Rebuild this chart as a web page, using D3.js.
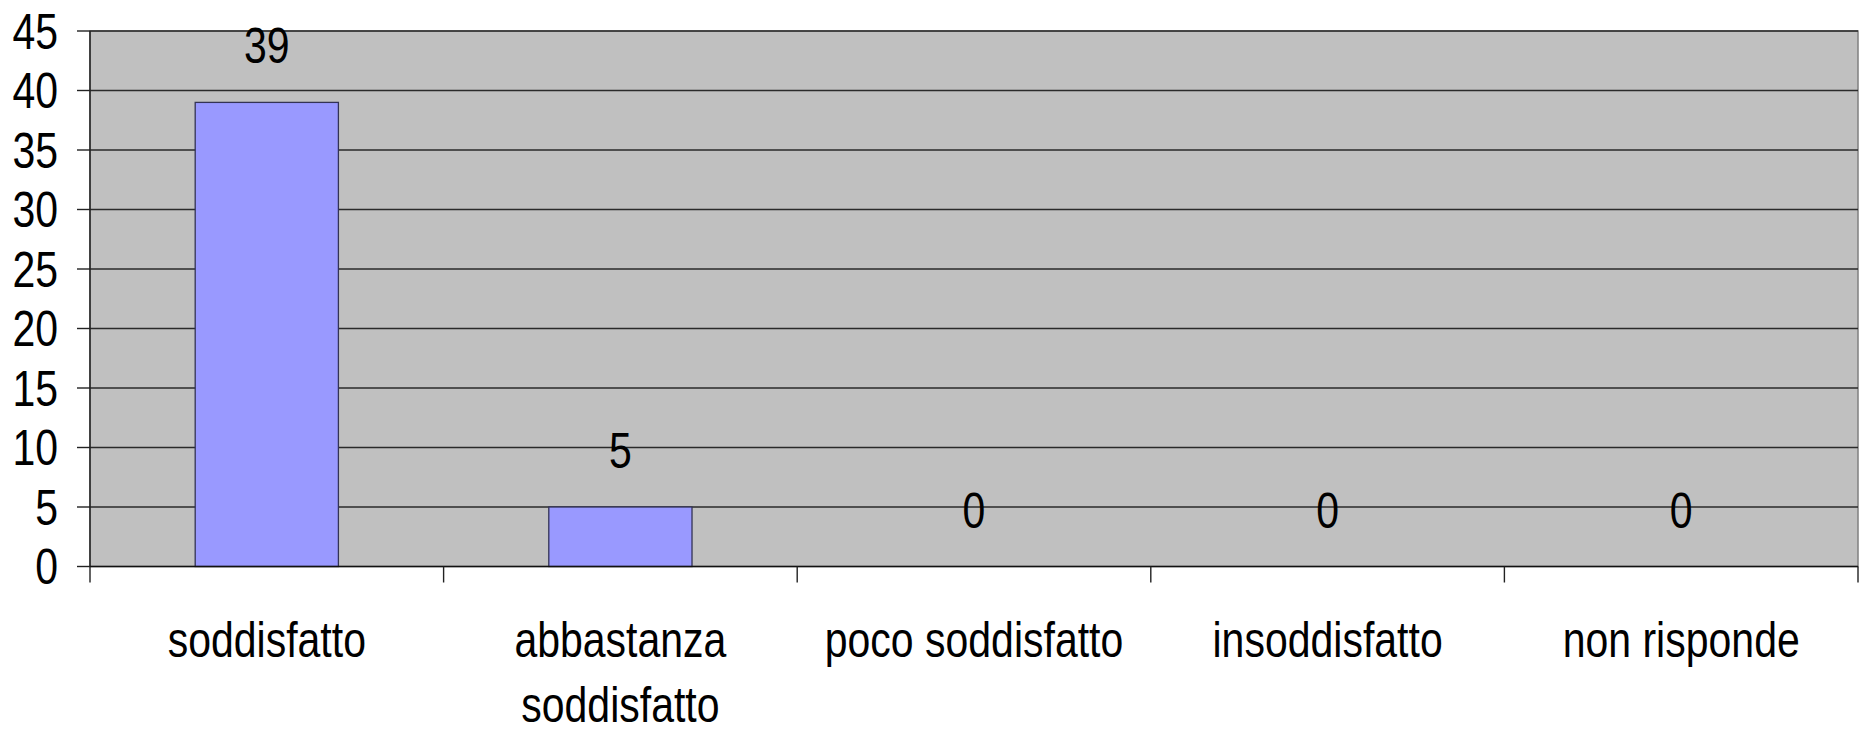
<!DOCTYPE html>
<html>
<head>
<meta charset="utf-8">
<script src="https://cdn.jsdelivr.net/npm/d3@7"></script>
<style>
  body { margin: 0; background: #fff; }
  text { font-family: "Liberation Sans Narrow", "Liberation Sans", Arial, sans-serif; fill: #000; }
</style>
</head>
<body>
<div id="chart"></div>
<script>
/* answers and counts */
var categories = ["soddisfatto", "abbastanza soddisfatto", "poco soddisfatto", "insoddisfatto", "non risponde"];
var values = [39, 5, 0, 0, 0];
var yTicks = [0, 5, 10, 15, 20, 25, 30, 35, 40, 45];

var width = 1861, height = 730;
var plotL = 90, plotR = 1858, plotT = 31, plotB = 566.5;
var fontSize = 50;
var narrow = 0.82;   // squeeze the text to look like Arial Narrow

var svg = d3.select("#chart").append("svg")
	.attr("width", width)
	.attr("height", height);

var x = d3.scaleBand()
	.domain(categories)
	.range([plotL, plotR])
	.padding(0);

var y = d3.scaleLinear()
	.domain([0, 45])
	.range([plotB, plotT]);

function place(sel, fx, fy) {
	sel.attr("transform", function(d, i) {
		return "translate(" + fx(d, i) + "," + fy(d, i) + ") scale(" + narrow + ",1)";
	});
}

// plot background
svg.append("rect")
	.attr("x", plotL)
	.attr("y", plotT)
	.attr("width", plotR - plotL)
	.attr("height", plotB - plotT)
	.style("fill", "#c0c0c0")
	.style("stroke", "#808080")
	.style("stroke-width", 1.5);

// gridlines
svg.append("g").selectAll("line")
	.data(yTicks.filter(function(d) { return d > 0; }))
	.enter()
	.append("line")
	.attr("x1", plotL)
	.attr("x2", plotR)
	.attr("y1", function(d) { return y(d); })
	.attr("y2", function(d) { return y(d); })
	.style("stroke", "#2a2a2a")
	.style("stroke-width", 1.4);

// bars
var barW = x.bandwidth() * 0.405;
svg.append("g").selectAll("rect")
	.data(values)
	.enter()
	.append("rect")
	.attr("x", function(d, i) { return x(categories[i]) + x.bandwidth()/2 - barW/2; })
	.attr("y", function(d) { return y(d); })
	.attr("width", barW)
	.attr("height", function(d) { return plotB - y(d); })
	.style("fill", "#9999ff")
	.style("stroke", "#333355")
	.style("stroke-width", 1.3);

// value labels
var vl = svg.append("g").selectAll("text")
	.data(values)
	.enter()
	.append("text")
	.attr("text-anchor", "middle")
	.style("font-size", fontSize + "px")
	.text(function(d) { return d; });
place(vl, function(d, i) { return x(categories[i]) + x.bandwidth()/2; },
	function(d) { return y(d) - 39; });

// y axis line and ticks
svg.append("line")
	.attr("x1", plotL).attr("x2", plotL)
	.attr("y1", plotT).attr("y2", plotB)
	.style("stroke", "#222")
	.style("stroke-width", 1.5);
svg.append("g").selectAll("line")
	.data(yTicks)
	.enter()
	.append("line")
	.attr("x1", plotL - 13)
	.attr("x2", plotL)
	.attr("y1", function(d) { return y(d); })
	.attr("y2", function(d) { return y(d); })
	.style("stroke", "#222")
	.style("stroke-width", 1.4);
var yl = svg.append("g").selectAll("text")
	.data(yTicks)
	.enter()
	.append("text")
	.attr("text-anchor", "end")
	.attr("dy", "0.35em")
	.style("font-size", fontSize + "px")
	.text(function(d) { return d; });
place(yl, function() { return 58; }, function(d) { return y(d); });

// x axis: ticks sit on the category boundaries
var xBounds = categories.map(function(c) { return x(c); }).concat([plotR]);
svg.append("line")
	.attr("x1", plotL).attr("x2", plotR)
	.attr("y1", plotB).attr("y2", plotB)
	.style("stroke", "#111")
	.style("stroke-width", 1.5);
svg.append("g").selectAll("line")
	.data(xBounds)
	.enter()
	.append("line")
	.attr("x1", function(d) { return d; })
	.attr("x2", function(d) { return d; })
	.attr("y1", plotB)
	.attr("y2", plotB + 16)
	.style("stroke", "#222")
	.style("stroke-width", 1.4);

// category labels, wrapped when wider than the band
var cat = svg.append("g").selectAll("text")
	.data(categories)
	.enter()
	.append("text")
	.attr("text-anchor", "middle")
	.style("font-size", fontSize + "px")
	.text(function(d) { return d; });
place(cat, function(d) { return x(d) + x.bandwidth()/2; }, function() { return 656.5; });

var maxW = (x.bandwidth() - 20) / narrow;
cat.each(function(d) {
	var t = d3.select(this);
	if (this.getComputedTextLength() < maxW) return;
	var words = d.split(" ");
	t.text(null);
	var line = [];
	var span = t.append("tspan").attr("x", 0).attr("dy", 0);
	words.forEach(function(w) {
		line.push(w);
		span.text(line.join(" "));
		if (span.node().getComputedTextLength() > maxW && line.length > 1) {
			line.pop();
			span.text(line.join(" "));
			line = [w];
			span = t.append("tspan").attr("x", 0).attr("dy", 66).text(w);
		}
	});
});
</script>
</body>
</html>
